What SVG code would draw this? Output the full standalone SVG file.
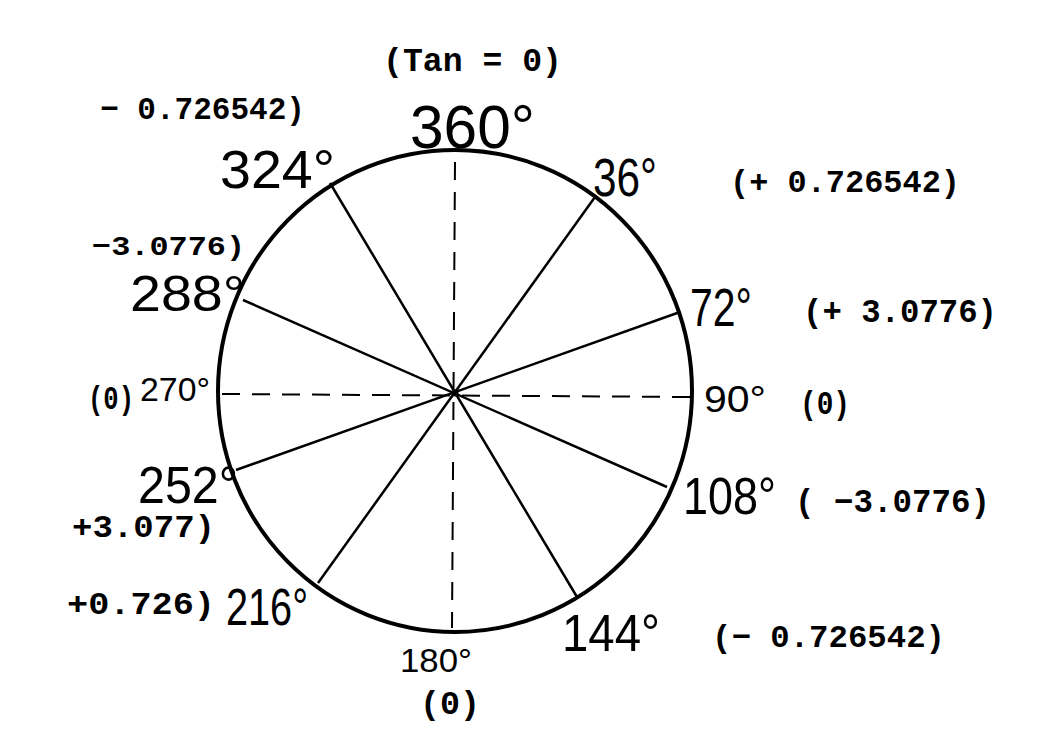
<svg xmlns="http://www.w3.org/2000/svg" width="1050" height="750" viewBox="0 0 1050 750">
<style>
.deg{font-family:"Liberation Sans","DejaVu Sans",sans-serif;font-weight:300;fill:#000}
.tw{font-family:"Liberation Mono","Courier New",monospace;font-weight:bold;fill:#000}
.spoke{stroke:#000;stroke-width:2.5;fill:none}
.dash{stroke:#000;stroke-width:2;fill:none;stroke-dasharray:18 12}
</style>
<rect width="1050" height="750" fill="#fff"/>
<g id="circle">
<ellipse cx="455" cy="391" rx="237" ry="241" fill="none" stroke="#000" stroke-width="4"/>
<circle cx="455" cy="393" r="3.5" fill="#000"/>
</g>
<g id="connectors">
<line class="spoke" x1="595" y1="197" x2="318" y2="583"/>
<line class="spoke" x1="680" y1="312" x2="236" y2="470"/>
<line class="spoke" x1="667" y1="487" x2="243" y2="300"/>
<line class="spoke" x1="577" y1="597" x2="330" y2="183"/>
<line class="dash" x1="455" y1="162" x2="452" y2="628"/>
<line class="dash" x1="222" y1="394" x2="690" y2="397"/>
</g>
<g id="labels-degrees">
<text class="deg" x="410" y="148" font-size="62" textLength="125" lengthAdjust="spacingAndGlyphs">360°</text>
<text class="deg" x="220" y="188" font-size="54" textLength="115" lengthAdjust="spacingAndGlyphs">324°</text>
<text class="deg" x="593" y="196" font-size="54" textLength="64" lengthAdjust="spacingAndGlyphs">36°</text>
<text class="deg" x="690" y="326" font-size="54" textLength="62" lengthAdjust="spacingAndGlyphs">72°</text>
<text class="deg" x="130" y="311" font-size="50" textLength="115" lengthAdjust="spacingAndGlyphs">288°</text>
<text class="deg" x="140" y="401" font-size="34" textLength="70" lengthAdjust="spacingAndGlyphs">270°</text>
<text class="deg" x="704" y="412" font-size="36" textLength="62" lengthAdjust="spacingAndGlyphs">90°</text>
<text class="deg" x="138" y="503" font-size="52" textLength="100" lengthAdjust="spacingAndGlyphs">252°</text>
<text class="deg" x="683" y="514" font-size="52" textLength="93" lengthAdjust="spacingAndGlyphs">108°</text>
<text class="deg" x="226" y="625" font-size="52" textLength="82" lengthAdjust="spacingAndGlyphs">216°</text>
<text class="deg" x="562" y="651" font-size="52" textLength="98" lengthAdjust="spacingAndGlyphs">144°</text>
<text class="deg" x="400" y="672" font-size="34" textLength="72" lengthAdjust="spacingAndGlyphs">180°</text>
</g>
<g id="labels-tan">
<text class="tw" x="383" y="71" font-size="33" textLength="179" lengthAdjust="spacingAndGlyphs">(Tan = 0)</text>
<text class="tw" x="100" y="119" font-size="32" textLength="205" lengthAdjust="spacingAndGlyphs">− 0.726542)</text>
<text class="tw" x="730" y="192" font-size="32" textLength="230" lengthAdjust="spacingAndGlyphs">(+ 0.726542)</text>
<text class="tw" x="803" y="322" font-size="33" textLength="194" lengthAdjust="spacingAndGlyphs">(+ 3.0776)</text>
<text class="tw" x="92" y="255" font-size="28" textLength="153" lengthAdjust="spacingAndGlyphs">−3.0776)</text>
<text class="tw" x="88" y="409" font-size="33" textLength="46" lengthAdjust="spacingAndGlyphs">(0)</text>
<text class="tw" x="800" y="414" font-size="33" textLength="50" lengthAdjust="spacingAndGlyphs">(0)</text>
<text class="tw" x="72" y="537" font-size="32" textLength="143" lengthAdjust="spacingAndGlyphs">+3.077)</text>
<text class="tw" x="795" y="512" font-size="33" textLength="195" lengthAdjust="spacingAndGlyphs">( −3.0776)</text>
<text class="tw" x="67" y="614" font-size="32" textLength="148" lengthAdjust="spacingAndGlyphs">+0.726)</text>
<text class="tw" x="712" y="647" font-size="32" textLength="233" lengthAdjust="spacingAndGlyphs">(− 0.726542)</text>
<text class="tw" x="420" y="714" font-size="33" textLength="60" lengthAdjust="spacingAndGlyphs">(0)</text>
</g>
</svg>
